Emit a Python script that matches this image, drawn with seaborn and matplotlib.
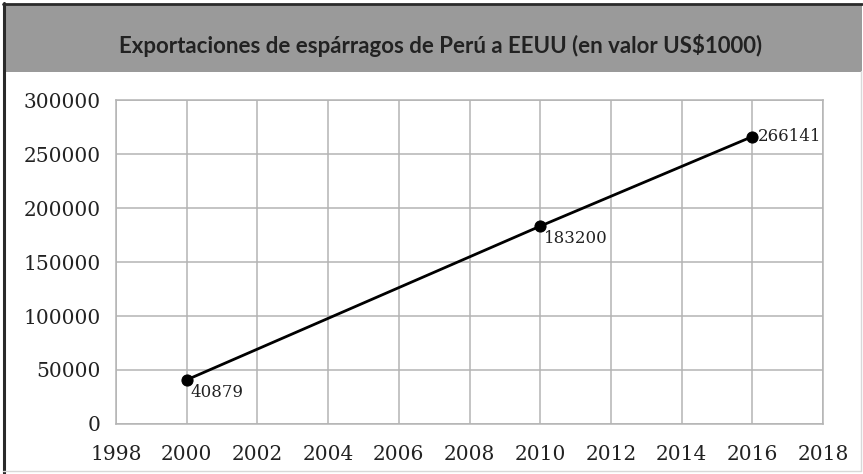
import matplotlib
matplotlib.use("Agg")
import matplotlib.pyplot as plt
import pandas as pd
import seaborn as sns
from matplotlib.patches import Rectangle
from matplotlib.lines import Line2D

# Datos del grafico
anios = [2000, 2010, 2016]
valores = [40879, 183200, 266141]
etiquetas = ["40879", "183200", "266141"]
x_ticks = [1998, 2000, 2002, 2004, 2006, 2008, 2010, 2012, 2014, 2016, 2018]
y_ticks = [0, 50000, 100000, 150000, 200000, 250000, 300000]
titulo = "Exportaciones de espárragos de Perú a EEUU (en valor US$1000)"

df = pd.DataFrame({"Año": anios, "Valor": valores})

sns.set_style("white")
plt.rcParams["font.family"] = ["DejaVu Serif"]

fig = plt.figure(figsize=(8.63, 4.74), dpi=100)

# Cabecera gris y bordes
fig.patches.append(Rectangle((0.004, 0.848), 0.995, 0.143, transform=fig.transFigure,
                             facecolor="#9a9a9a", edgecolor="none", zorder=0))
fig.lines.append(Line2D([0.004, 0.999], [0.991, 0.991], transform=fig.transFigure,
                        color="#2a2a2a", lw=2))
fig.lines.append(Line2D([0.0045, 0.0045], [0.0, 0.993], transform=fig.transFigure,
                        color="#2a2a2a", lw=2.2))
fig.lines.append(Line2D([0.998, 0.998], [0.006, 0.85], transform=fig.transFigure,
                        color="#d8d8d8", lw=1))
fig.lines.append(Line2D([0.004, 0.998], [0.006, 0.006], transform=fig.transFigure,
                        color="#d8d8d8", lw=1))

fig.text(0.511, 0.905, titulo, ha="center", va="center", fontsize=16,
         family="Lato", fontweight="bold", color="#222222")

ax = fig.add_axes([0.1344, 0.1055, 0.8193, 0.6835])
sns.lineplot(ax=ax, data=df, x="Año", y="Valor", color="black", linewidth=2,
             marker="o", markersize=8, markeredgecolor="black")

ax.set_xlim(1998, 2018)
ax.set_ylim(0, 300000)
ax.set_xticks(x_ticks)
ax.set_yticks(y_ticks)
ax.set_xticklabels([str(t) for t in x_ticks])
ax.set_yticklabels([str(t) for t in y_ticks])
ax.set(xlabel=None, ylabel=None)
ax.grid(True, color="#b4b4b4", linewidth=1.1)
ax.set_axisbelow(True)
for s in ax.spines.values():
    s.set_color("#b4b4b4")
    s.set_linewidth(1.1)
ax.tick_params(axis="both", length=0, labelsize=14.5, colors="#222222")
ax.tick_params(axis="y", pad=11)
ax.tick_params(axis="x", pad=15)

# Etiquetas de datos
offsets = [(3, -3), (3, -3), (4, 0)]
vas = ["top", "top", "center"]
for xv, yv, lab, off, va in zip(anios, valores, etiquetas, offsets, vas):
    ax.annotate(lab, (xv, yv), xytext=off, textcoords="offset points",
                ha="left", va=va, fontsize=12, color="#222222")

plt.savefig("out.png", dpi=100)
